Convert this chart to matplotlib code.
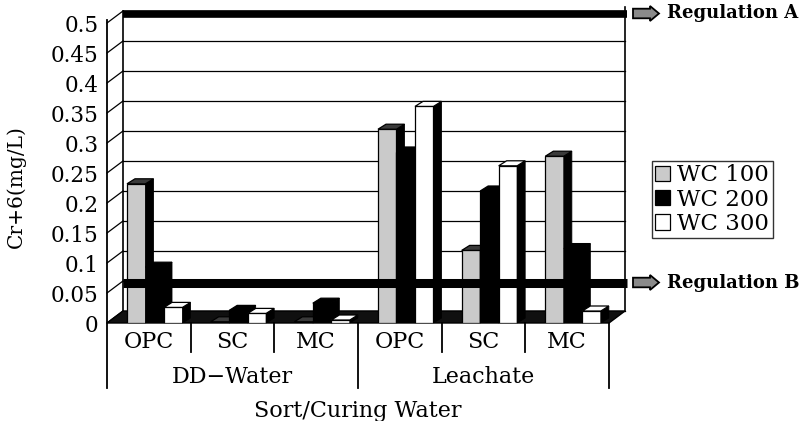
import matplotlib
matplotlib.use('Agg')
import matplotlib.pyplot as plt
from matplotlib.patches import Polygon

# ---------------- data ----------------
groups = ['DD\u2212Water', 'Leachate']
sorts = ['OPC', 'SC', 'MC', 'OPC', 'SC', 'MC']
series_names = ['WC 100', 'WC 200', 'WC 300']
wc100 = [0.232, 0.002, 0.002, 0.323, 0.121, 0.278]
wc200 = [0.093, 0.021, 0.033, 0.285, 0.220, 0.124]
wc300 = [0.026, 0.016, 0.005, 0.361, 0.262, 0.020]
y_ticks = [0, 0.05, 0.1, 0.15, 0.2, 0.25, 0.3, 0.35, 0.4, 0.45, 0.5]
y_tick_labels = ['0', '0.05', '0.1', '0.15', '0.2', '0.25', '0.3', '0.35', '0.4', '0.45', '0.5']
reg_names = ['Regulation A', 'Regulation B']
reg_values = [0.5, 0.05]
y_label = 'Cr+6(mg/L)'
x_label = 'Sort/Curing Water'

# ---------------- style ----------------
W, H = 799, 421
FONT = 'DejaVu Serif'
face_colors = ['#cacaca', '#000000', '#ffffff']
top_colors = ['#3a3a3a', '#000000', '#ffffff']

fig = plt.figure(figsize=(W / 100, H / 100), dpi=100)
L, R, B, T = 107, 609, 323, 23
ax = fig.add_axes([L / W, 1 - B / H, (R - L) / W, (B - T) / H])
ax.set_xlim(0, 6)
ax.set_ylim(0, 0.5)
for s in ax.spines.values():
    s.set_visible(False)
ax.set_xticks([])
ax.set_yticks(y_ticks)
ax.set_yticklabels(y_tick_labels, fontsize=15.5, family=FONT)
ax.tick_params(axis='y', length=0, pad=6)
ax.patch.set_alpha(0)

xu = (R - L) / 6.0   # px per x unit
yu = (B - T) / 0.5   # px per value unit
DX, DY = 16 / xu, 12 / yu        # wall depth
bdx, bdy = 8 / xu, 5 / yu        # bar depth
off, bw = 20 / xu, 18.5 / xu

kw = dict(clip_on=False)
# back wall grid
for v in y_ticks:
    ax.plot([DX, 6 + DX], [v + DY, v + DY], color='black', lw=0.9, zorder=1, **kw)
    ax.plot([0, DX], [v, v + DY], color='black', lw=0.9, zorder=1, **kw)
ax.plot([DX, DX], [DY, 0.5 + DY], color='black', lw=1.2, zorder=1, **kw)
ax.plot([6 + DX, 6 + DX], [DY, 0.5 + DY + 4 / yu], color='black', lw=1.2, zorder=1, **kw)
# floor
ax.add_patch(Polygon([(0, 0), (6, 0), (6 + DX, DY), (DX, DY)], closed=True,
                     facecolor='#101010', edgecolor='black', lw=1, zorder=2, **kw))
# left axis
ax.plot([0, 0], [0.5 + 3 / yu, -65 / yu], color='black', lw=1.3, zorder=3, **kw)

# bars
data = [wc100, wc200, wc300]
handles = []
for j, vals in enumerate(data):
    xs = [i + off + j * bw for i in range(6)]
    bars = ax.bar(xs, vals, width=bw, align='edge', color=face_colors[j],
                  edgecolor='black', lw=0.9, zorder=4 + j, label=series_names[j])
    handles.append(bars)
    for x, v in zip(xs, vals):
        ax.add_patch(Polygon([(x + bw, 0), (x + bw + bdx, bdy), (x + bw + bdx, v + bdy), (x + bw, v)],
                             closed=True, facecolor='black', edgecolor='black', lw=0.6,
                             zorder=4 + j, **kw))
        ax.add_patch(Polygon([(x, v), (x + bdx, v + bdy), (x + bw + bdx, v + bdy), (x + bw, v)],
                             closed=True, facecolor=top_colors[j], edgecolor='black', lw=0.9,
                             zorder=4 + j, **kw))

# regulation lines
reg_lw = [5.5, 6.5]
reg_shift = [-2.5, -1.5]
for name, v, lw, sh in zip(reg_names, reg_values, reg_lw, reg_shift):
    yc = v + DY + sh / yu
    ax.plot([DX, 6 + DX + 2 / xu], [yc, yc], color='black', lw=lw,
            solid_capstyle='butt', zorder=10, **kw)
    x0 = 6 + DX + 8 / xu
    hw = 6 / yu
    ax.add_patch(Polygon([(x0, yc - hw * 0.8), (x0 + 17 / xu, yc - hw * 0.8), (x0 + 17 / xu, yc - hw * 1.25),
                          (x0 + 26 / xu, yc), (x0 + 17 / xu, yc + hw * 1.25), (x0 + 17 / xu, yc + hw * 0.8),
                          (x0, yc + hw * 0.8)], closed=True, facecolor='#8a8a8a',
                         edgecolor='black', lw=1.3, zorder=10, **kw))
    ax.text(6 + DX + 42 / xu, yc, name, fontsize=13, fontweight='bold', family=FONT,
            ha='left', va='center', **kw)

# category axis
for i, s in enumerate(sorts):
    ax.text(i + 0.5, -19 / yu, s, fontsize=16, family=FONT, ha='center', va='center', **kw)
for x in [1, 2, 4, 5]:
    ax.plot([x, x], [0, -29 / yu], color='black', lw=1.3, **kw)
for x in [3, 6]:
    ax.plot([x, x], [0, -65 / yu], color='black', lw=1.3, **kw)
for g, gname in enumerate(groups):
    ax.text(3 * g + 1.5, -54 / yu, gname, fontsize=16, family=FONT, ha='center', va='center', **kw)
ax.text(3, -88 / yu, x_label, fontsize=16, family=FONT, ha='center', va='center', **kw)
ax.text(-91 / xu, 0.25 - 14 / yu, y_label, fontsize=14.5, family=FONT, rotation=90,
        ha='center', va='center', **kw)

leg = fig.legend(handles=handles, labels=series_names, loc='upper left',
                 bbox_to_anchor=(652 / W, 1 - 161 / H), frameon=True, fancybox=False,
                 edgecolor='black', prop={'family': FONT, 'size': 16.5}, handlelength=0.65,
                 handleheight=0.65, handletextpad=0.3, borderpad=0.15, labelspacing=0.1,
                 borderaxespad=0)
leg.get_frame().set_linewidth(1.0)

fig.savefig('out.png', dpi=100)
